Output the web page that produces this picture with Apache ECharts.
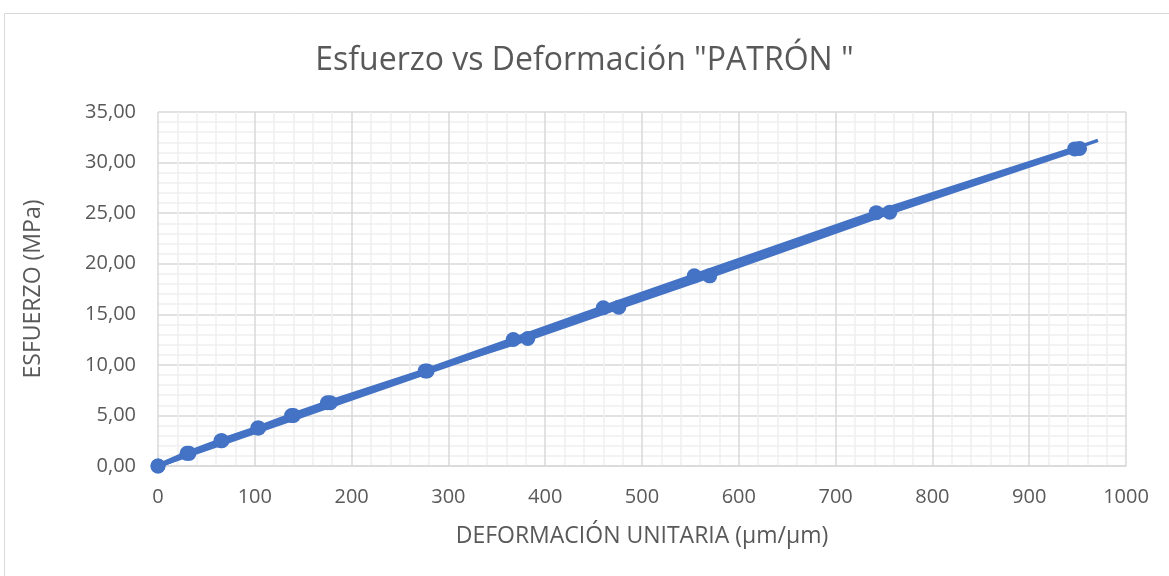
<!DOCTYPE html>
<html><head><meta charset="utf-8">
<script src="https://cdn.jsdelivr.net/npm/echarts@6/dist/echarts.min.js"></script>
<style>html,body{margin:0;padding:0;background:#fff}#c{width:1169px;height:576px}</style>
</head><body><div id="c"></div>
<script>
const titleText = 'Esfuerzo vs Deformación "PATRÓN "';
const xAxisName = 'DEFORMACIÓN UNITARIA (µm/µm)';
const yAxisName = 'ESFUERZO (MPa)';
const strainA = [0, 30, 65, 103, 138, 175, 276, 367, 460, 554, 742, 947];
const stressA = [0, 1.25, 2.5, 3.75, 5.0, 6.25, 9.4, 12.5, 15.65, 18.8, 25.05, 31.35];
const strainB = [0, 32, 66, 104, 140, 178, 278, 382, 476, 570, 756, 952];
const stressB = [0, 1.25, 2.5, 3.75, 5.0, 6.25, 9.4, 12.6, 15.7, 18.8, 25.1, 31.4];
const trendX = [0, 971];
const trendY = [0, 32.2];

const pairs = (xs, ys) => xs.map((x, i) => [x, ys[i]]);
const blue = '#4472C4';
const txt = '#595959';
const fam = '"Open Sans", Calibri, sans-serif';

const chart = echarts.init(document.getElementById('c'));
chart.setOption({
  animation: false,
  title: { text: titleText, left: 'center', top: 40,
    textStyle: { fontFamily: fam, fontWeight: 'normal', fontSize: 32, color: txt } },
  graphic: [{ type: 'rect', shape: { x: 4.5, y: 13.5, width: 1200, height: 600 },
    style: { fill: 'none', stroke: '#d9d9d9', lineWidth: 1 }, silent: true }],
  grid: { left: 158, right: 43, top: 112, bottom: 110 },
  xAxis: {
    type: 'value', min: 0, max: 1000, interval: 100,
    name: xAxisName, nameLocation: 'middle', nameGap: 59,
    nameTextStyle: { fontFamily: fam, fontSize: 23, color: txt },
    axisLine: { show: true, onZero: false, lineStyle: { color: '#d9d9d9', width: 1.5 } },
    axisTick: { show: false },
    axisLabel: { fontFamily: fam, fontSize: 20, color: txt, margin: 21,
      formatter: v => String(v) },
    splitLine: { show: true, lineStyle: { color: '#d9d9d9', width: 1.5 } },
    minorTick: { show: false, splitNumber: 5 },
    minorSplitLine: { show: true, lineStyle: { color: '#efefef', width: 1.5 } }
  },
  yAxis: {
    type: 'value', min: 0, max: 35, interval: 5,
    name: yAxisName, nameLocation: 'middle', nameGap: 113,
    nameTextStyle: { fontFamily: fam, fontSize: 23, color: txt },
    axisLine: { show: false },
    axisTick: { show: false },
    axisLabel: { fontFamily: fam, fontSize: 20, color: txt, margin: 22,
      formatter: v => v.toFixed(2).replace('.', ',') },
    splitLine: { show: true, lineStyle: { color: '#d9d9d9', width: 1.5 } },
    minorTick: { show: false, splitNumber: 5 },
    minorSplitLine: { show: true, lineStyle: { color: '#efefef', width: 1.5 } }
  },
  series: [
    { type: 'line', data: pairs(trendX, trendY), symbol: 'none',
      lineStyle: { color: blue, width: 3.5 }, z: 2 },
    { type: 'line', data: pairs(strainA, stressA), symbol: 'circle', symbolSize: 15,
      itemStyle: { color: blue }, lineStyle: { color: blue, width: 5 }, z: 3 },
    { type: 'line', data: pairs(strainB, stressB), symbol: 'circle', symbolSize: 15,
      itemStyle: { color: blue }, lineStyle: { color: blue, width: 5 }, z: 3 }
  ]
});
</script></body></html>
